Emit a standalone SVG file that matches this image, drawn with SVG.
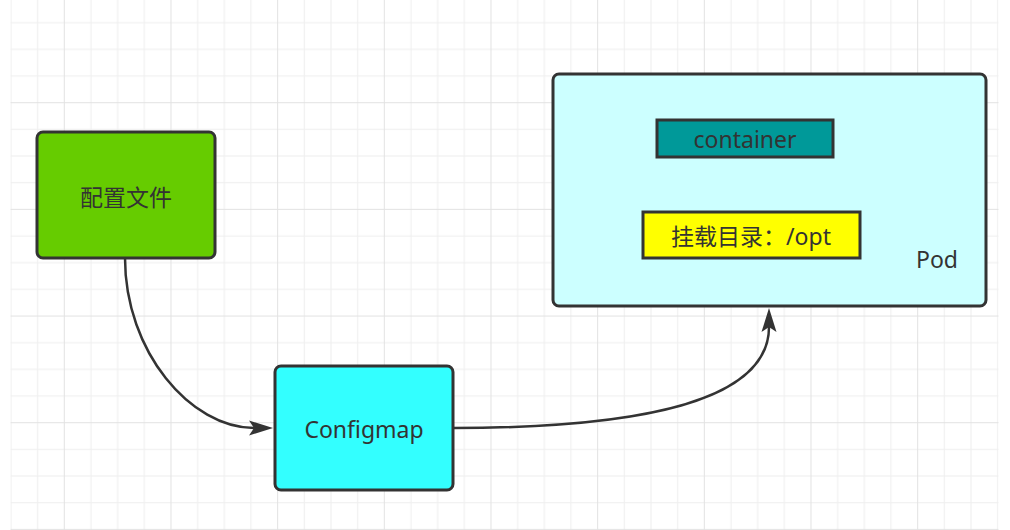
<svg xmlns="http://www.w3.org/2000/svg" width="1010" height="530" viewBox="0 0 1010 530">
  <style>
    .box { stroke: #333333; stroke-width: 3; }
    .lbl { font-family: "Noto Sans", "Noto Sans CJK SC", sans-serif; font-size: 23px; fill: #333333; text-anchor: middle; }
    .edge { fill: none; stroke: #333333; stroke-width: 2.5; }
  </style>
  <defs>
    <pattern id="grid" patternUnits="userSpaceOnUse" x="63.8" y="102.2" width="106.67" height="106.67">
      <rect x="26.67" y="0" width="1" height="106.67" fill="#eeeeee"/>
      <rect x="53.33" y="0" width="1" height="106.67" fill="#eeeeee"/>
      <rect x="80" y="0" width="1" height="106.67" fill="#eeeeee"/>
      <rect x="0" y="26.67" width="106.67" height="1" fill="#eeeeee"/>
      <rect x="0" y="53.33" width="106.67" height="1" fill="#eeeeee"/>
      <rect x="0" y="80" width="106.67" height="1" fill="#eeeeee"/>
      <rect x="0" y="0" width="1" height="106.67" fill="#e2e2e2"/>
      <rect x="0" y="0" width="106.67" height="1" fill="#e2e2e2"/>
    </pattern>
    <marker id="arrow" markerUnits="userSpaceOnUse" markerWidth="26" markerHeight="16" refX="5" refY="8" orient="auto" viewBox="0 0 26 16">
      <path d="M0,0.5 L24,8 L0,15.5 L5,8 Z" fill="#333333"/>
    </marker>
  </defs>
  <rect x="0" y="0" width="1010" height="530" fill="#ffffff"/>
  <rect x="10.5" y="0" width="988" height="530" fill="url(#grid)"/>

  <g id="connectors">
    <path class="edge" d="M125,258 C125,352 191,428 254,428" marker-end="url(#arrow)"/>
    <path class="edge" d="M453,428 C640,428 769,402 769,327" marker-end="url(#arrow)"/>
  </g>

  <g id="config-file">
    <rect class="box" x="37" y="132" width="178" height="126" rx="6" fill="#66cc00"/>
    <text class="lbl" x="126" y="206">配置文件</text>
  </g>

  <g id="configmap">
    <rect class="box" x="275" y="366" width="178" height="124" rx="6" fill="#33ffff"/>
    <text class="lbl" x="364" y="438">Configmap</text>
  </g>

  <g id="pod">
    <rect class="box" x="553" y="74" width="433" height="232" rx="6" fill="#ccffff"/>
    <text class="lbl" x="937" y="268">Pod</text>
  </g>

  <g id="container">
    <rect class="box" x="657" y="120" width="176" height="37" fill="#009999"/>
    <text class="lbl" x="745" y="148">container</text>
  </g>

  <g id="mount">
    <rect class="box" x="643" y="212" width="217" height="46" fill="#ffff00"/>
    <text class="lbl" x="751" y="245">挂载目录：/opt</text>
  </g>
</svg>
